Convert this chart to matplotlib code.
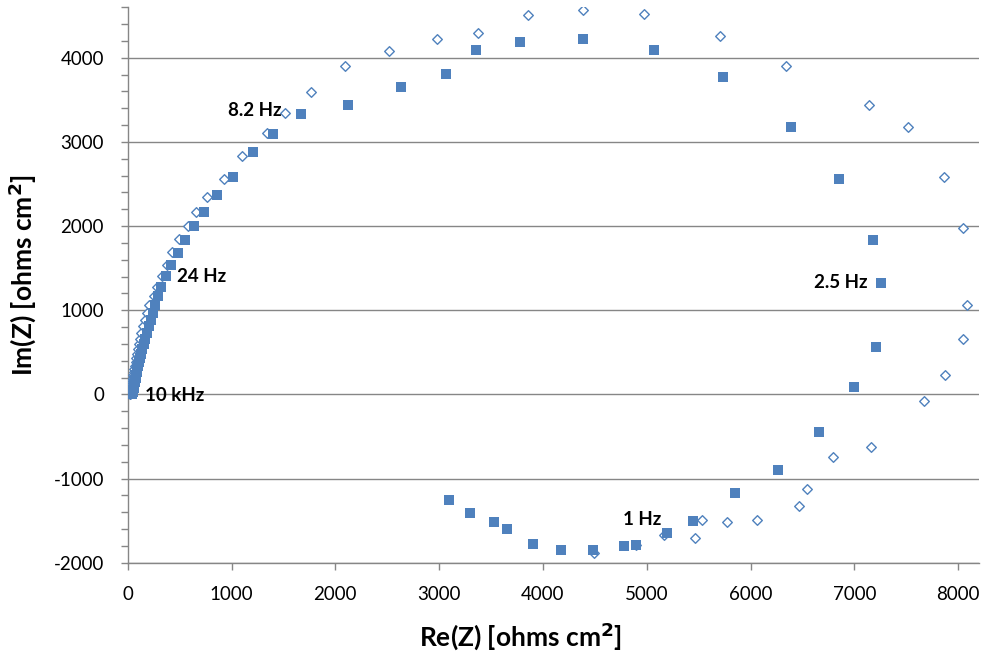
import matplotlib
matplotlib.use("Agg")

import matplotlib.pyplot as plt
from matplotlib.ticker import MultipleLocator

plt.rcParams["font.family"] = ["Lato", "DejaVu Sans"]
plt.rcParams["axes.unicode_minus"] = False

# filled squares (series 1), Re / Im in ohms cm2
sq_re = [38, 42, 45, 48, 51, 54, 57, 60, 63, 67, 71, 75, 80, 86, 92, 98, 105,
         114, 126, 140, 154, 170, 188, 208, 225, 247, 263, 292, 321, 369, 418,
         485, 553, 640, 736, 861, 1015, 1208, 1401, 1671, 2124, 2636, 3069,
         3358, 3783, 4390, 5068, 5731, 6389, 6856, 7177, 7254, 7206, 6994,
         6656, 6262, 5847, 5442, 5191, 4892, 4776, 4477, 4178, 3908, 3657,
         3532, 3301, 3099]
sq_im = [2, 7, 16, 28, 42, 58, 76, 96, 118, 142, 168, 196, 228, 262, 300, 340,
         385, 430, 480, 535, 595, 660, 730, 808, 887, 967, 1065, 1173, 1280,
         1411, 1542, 1684, 1837, 2005, 2170, 2373, 2588, 2884, 3100, 3337,
         3444, 3659, 3813, 4087, 4182, 4218, 4091, 3770, 3175, 2565, 1839,
         1327, 566, 91, -445, -897, -1170, -1504, -1647, -1790, -1802, -1850,
         -1850, -1779, -1600, -1517, -1410, -1255]

# open diamonds (series 2)
dm_re = [20, 21, 23, 25, 27, 29, 32, 35, 38, 41, 45, 49, 53, 58, 63, 69, 75,
         81, 90, 99, 108, 119, 131, 145, 167, 183, 208, 254, 283, 331, 379,
         427, 495, 581, 659, 765, 929, 1102, 1343, 1517, 1768, 2096, 2519,
         2982, 3378, 3860, 4381, 4976, 5705, 6345, 7142, 7512, 7865, 8045,
         8084, 8045, 7871, 7669, 7158, 6790, 6541, 6464, 6059, 5770, 5529,
         5461, 5162, 4892, 4487]
dm_im = [2, 7, 16, 28, 42, 58, 76, 96, 118, 142, 168, 196, 228, 262, 300, 340,
         385, 430, 480, 535, 595, 660, 730, 808, 887, 967, 1065, 1173, 1280,
         1411, 1542, 1696, 1851, 2005, 2170, 2349, 2563, 2837, 3111, 3349,
         3599, 3897, 4075, 4218, 4289, 4503, 4574, 4515, 4257, 3905, 3441,
         3175, 2580, 1982, 1066, 661, 233, -76, -623, -745, -1122, -1325,
         -1492, -1516, -1492, -1706, -1671, -1790, -1885]

# frequency labels: text, Re, Im (left edge of text)
freq_text = ["10 kHz", "24 Hz", "8.2 Hz", "2.5 Hz", "1 Hz"]
freq_re = [168, 475, 968, 6608, 4767]
freq_im = [-15, 1398, 3372, 1327, -1492]

blue = "#4F81BD"
grey = "#868686"

fig = plt.figure(figsize=(9.87, 6.59), dpi=100)
ax = fig.add_axes([0.1294, 0.1461, 0.8625, 0.8428])

ax.scatter(dm_re, dm_im, marker="D", s=24, facecolor="white",
           edgecolor=blue, linewidth=1.0, zorder=3)
ax.scatter(sq_re, sq_im, marker="s", s=42, color=blue, linewidth=0, zorder=4)

for t, x, y in zip(freq_text, freq_re, freq_im):
    ax.text(x, y, t, fontsize=13.5, fontweight="bold", ha="left",
            va="center", zorder=5)

ax.set_xlim(0, 8200)
ax.set_ylim(-2000, 4600)
ax.xaxis.set_major_locator(MultipleLocator(1000))
ax.yaxis.set_major_locator(MultipleLocator(1000))
ax.yaxis.set_minor_locator(MultipleLocator(200))

ax.grid(axis="y", which="major", color=grey, linewidth=1.0)
ax.set_axisbelow(True)
for side in ["top", "right"]:
    ax.spines[side].set_visible(False)
for side in ["left", "bottom"]:
    ax.spines[side].set_color(grey)
    ax.spines[side].set_linewidth(1.0)

ax.tick_params(axis="both", which="both", colors=grey, direction="out",
               labelcolor="black", labelsize=13.5)
ax.tick_params(axis="both", which="major", length=5, width=1, pad=12)
ax.tick_params(axis="y", which="minor", length=5, width=1)

ax.set_xlabel("Re(Z) [ohms cm$^\\mathbf{2}$]", fontsize=19, fontweight="bold",
              va="center", ha="center")
ax.set_ylabel("Im(Z) [ohms cm$^\\mathbf{2}$]", fontsize=19, fontweight="bold",
              va="center", ha="center")
ax.xaxis.set_label_coords(0.462, -0.132)
ax.yaxis.set_label_coords(-0.124, 0.518)

fig.savefig("out.png", dpi=100)
